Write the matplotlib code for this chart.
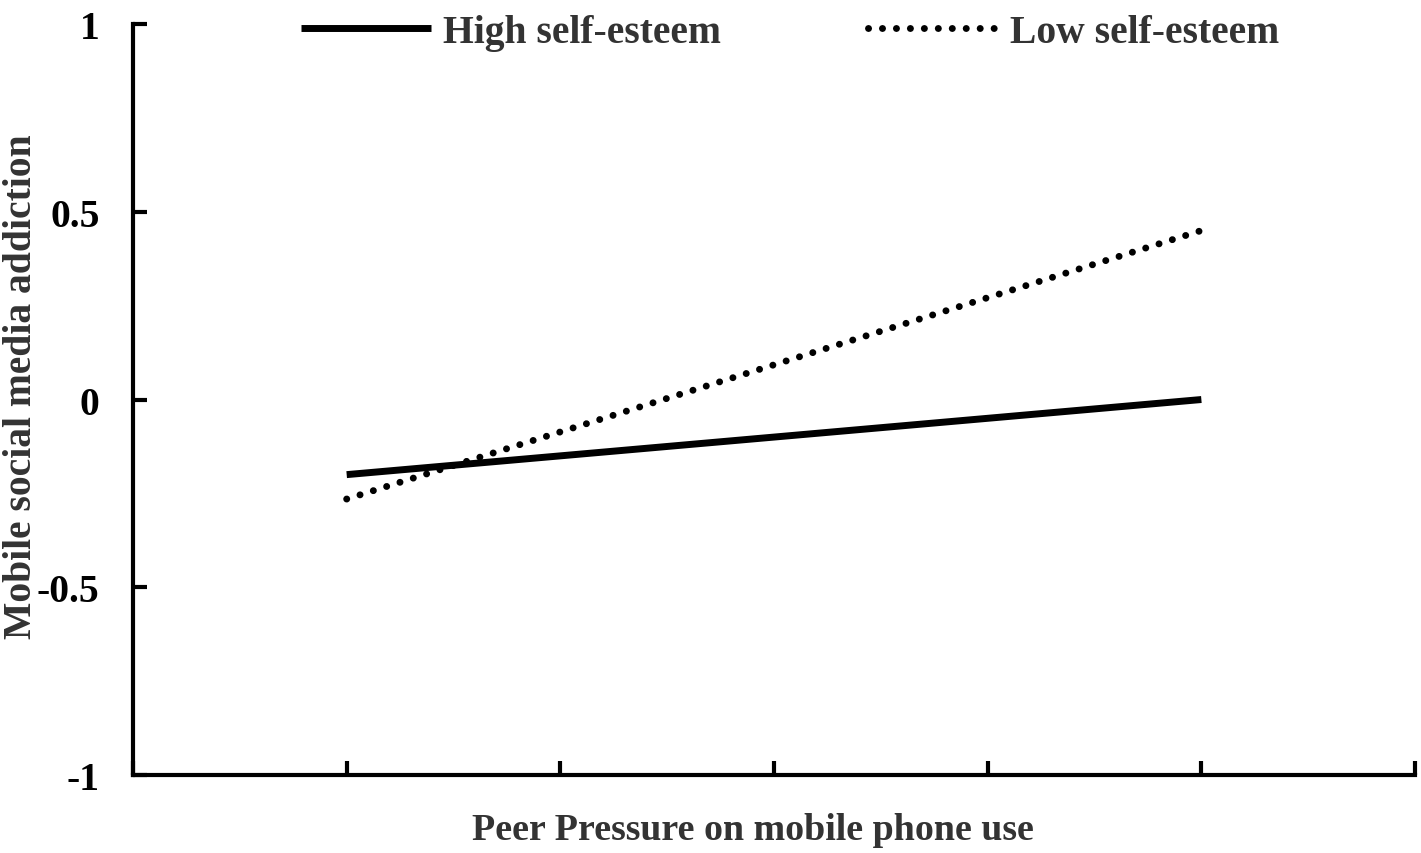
import matplotlib.pyplot as plt

# simple slopes: low / high peer pressure, two self-esteem groups
x_pontos = [1, 5]
alta_autoestima = [-0.20, 0.00]
baixa_autoestima = [-0.265, 0.45]
y_ticks = [-1, -0.5, 0, 0.5, 1]
y_labels = ["-1", "-0.5", "0", "0.5", "1"]

plt.rcParams["font.family"] = ["Liberation Serif", "DejaVu Serif"]
plt.rcParams["font.weight"] = "bold"
tam = 28.5

fig = plt.figure(figsize=(14.21, 8.54), dpi=100)
ax = fig.add_axes([0.0936, 0.0913, 0.9022, 0.8794])

ax.plot(x_pontos, alta_autoestima, color="black", linewidth=5, solid_capstyle="butt",
        label="High self-esteem")
ax.plot(x_pontos, baixa_autoestima, color="black", linewidth=5, linestyle=(0, (0.01, 2)),
        dash_capstyle="round", label="Low self-esteem")

ax.set_xlim(0, 6)
ax.set_ylim(-1, 1)
ax.set_xticks(range(0, 7))
ax.set_xticklabels([])
ax.set_yticks(y_ticks)
ax.set_yticklabels(y_labels, fontsize=tam, fontweight="bold")
ax.tick_params(direction="in", length=10, width=3, pad=24)

for lado in ["top", "right"]:
    ax.spines[lado].set_visible(False)
for lado in ["left", "bottom"]:
    ax.spines[lado].set_linewidth(3)

ax.set_xlabel("Peer Pressure on mobile phone use", fontsize=27.3, fontweight="bold",
              color="#333333", va="center")
ax.xaxis.set_label_coords(0.4836, -0.072)
ax.set_ylabel("Mobile social media addiction", fontsize=tam, fontweight="bold",
              color="#333333", va="center")
ax.yaxis.set_label_coords(-0.0866, 0.519)

leg = fig.legend(loc="center", bbox_to_anchor=(0.556, 0.961), ncol=2, frameon=False,
                 fontsize=tam, handlelength=3.3, handletextpad=0.3, columnspacing=3.7,
                 borderpad=0, borderaxespad=0)
for txt in leg.get_texts():
    txt.set_color("#333333")
    txt.set_fontweight("bold")

plt.savefig("out.png", dpi=100)
